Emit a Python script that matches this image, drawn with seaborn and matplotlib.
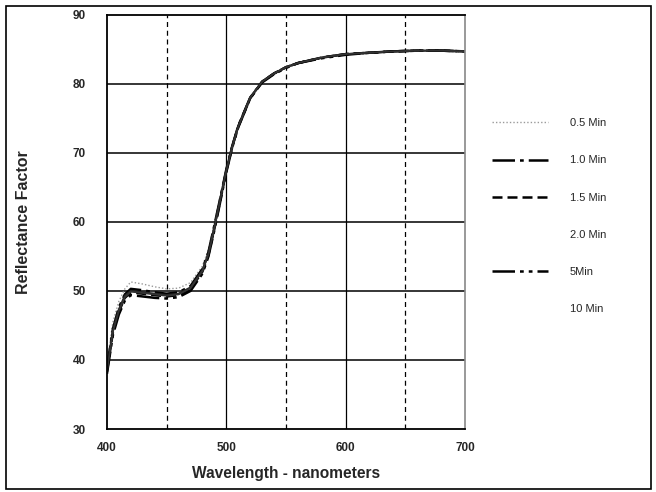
"""
Reflectance factor vs. wavelength for several exposure times.
Recreated as a seaborn line chart with a scanned-report look.
"""

import pandas as pd
import matplotlib.pyplot as plt
import matplotlib.patches as mpatches
from matplotlib.lines import Line2D
import seaborn as sns

# wavelength grid (nm)
wavelength = [400, 405, 410, 415, 420, 430, 440, 450, 460, 470, 480, 485, 490,
              495, 500, 505, 510, 520, 530, 540, 550, 560, 580, 600, 620, 640,
              660, 680, 700]

# reflectance factor, one list per exposure time
r_05 = [39.5, 45.5, 48.5, 50.3, 51.3, 51.0, 50.6, 50.3, 50.4, 51.2, 53.6, 56.0,
        59.8, 63.8, 67.8, 71.2, 74.0, 78.1, 80.4, 81.6, 82.5, 83.1, 83.8, 84.3,
        84.5, 84.7, 84.8, 84.8, 84.7]
r_10 = [38.8, 44.5, 47.6, 49.5, 50.3, 50.1, 49.8, 49.6, 49.8, 50.7, 53.2, 55.6,
        59.5, 63.5, 67.6, 71.0, 73.9, 78.0, 80.3, 81.5, 82.4, 83.0, 83.8, 84.3,
        84.5, 84.7, 84.8, 84.8, 84.7]
r_15 = [38.3, 44.0, 47.0, 49.0, 49.8, 49.6, 49.4, 49.2, 49.4, 50.3, 52.8, 55.2,
        59.0, 63.2, 67.4, 70.9, 73.8, 77.9, 80.3, 81.5, 82.4, 83.0, 83.8, 84.3,
        84.5, 84.7, 84.8, 84.8, 84.7]
r_20 = [38.6, 44.3, 47.3, 49.3, 50.0, 49.8, 49.6, 49.4, 49.6, 50.5, 53.0, 55.4,
        59.3, 63.4, 67.5, 71.0, 73.9, 78.0, 80.3, 81.5, 82.4, 83.0, 83.8, 84.3,
        84.5, 84.7, 84.8, 84.8, 84.7]
r_5 = [38.0, 43.6, 46.6, 48.6, 49.4, 49.2, 49.0, 48.9, 49.1, 50.0, 52.5, 55.0,
       58.8, 63.0, 67.2, 70.8, 73.7, 77.9, 80.2, 81.4, 82.3, 83.0, 83.7, 84.2,
       84.5, 84.7, 84.8, 84.8, 84.7]
r_10min = [38.4, 44.1, 47.1, 49.1, 49.9, 49.7, 49.5, 49.3, 49.5, 50.4, 52.9, 55.3,
           59.1, 63.3, 67.4, 70.9, 73.8, 78.0, 80.3, 81.5, 82.4, 83.0, 83.8, 84.3,
           84.5, 84.7, 84.8, 84.8, 84.7]

labels = ["0.5 Min", "1.0 Min", "1.5 Min", "2.0 Min", "5Min", "10 Min"]
series = [r_05, r_10, r_15, r_20, r_5, r_10min]

x_ticks = [400, 500, 600, 700]
y_ticks = [30, 40, 50, 60, 70, 80, 90]

sns.set_theme(style="white")
plt.rcParams["font.family"] = ["Liberation Sans", "DejaVu Sans"]

fig = plt.figure(figsize=(6.56, 4.92), dpi=100)
ax = fig.add_axes([0.163, 0.128, 0.546, 0.842])

# style per series: (color, linestyle, linewidth, show line in legend)
styles = [
    ("#9a9a9a", (0, (1, 1.5)), 1.0, True),
    ("black", (0, (9, 2, 1.5, 2)), 1.8, True),
    ("black", (0, (4, 2)), 1.8, True),
    ("#222222", "-", 1.5, False),
    ("black", (0, (9, 2, 1.5, 2, 1.5, 2)), 1.8, True),
    ("#333333", "-", 1.3, False),
]

handles = []
for vals, lab, (col, ls, lw, show) in zip(series, labels, styles):
    df = pd.DataFrame({"wavelength": wavelength, "reflectance": vals})
    sns.lineplot(data=df, x="wavelength", y="reflectance", ax=ax, color=col,
                 linestyle=ls, linewidth=lw)
    handles.append(Line2D([], [], color=col, linestyle=ls if show else "None",
                          linewidth=lw, label=lab))

# grid: solid at every 100 nm / 10 units, dashed at the 50 nm marks
for yv in y_ticks[1:-1]:
    ax.axhline(yv, color="black", linewidth=1.1, zorder=0)
for xv in [500, 600]:
    ax.axvline(xv, color="black", linewidth=0.9, zorder=0)
for xv in [450, 550, 650]:
    ax.axvline(xv, color="black", linewidth=0.9, linestyle=(0, (4, 3)), zorder=0)

ax.set_xlim(400, 700)
ax.set_ylim(30, 90)
ax.set_xticks(x_ticks)
ax.set_yticks(y_ticks)
ax.tick_params(axis="both", length=0, labelsize=8.5)
ax.tick_params(axis="y", pad=15)
ax.tick_params(axis="x", pad=9)
for t in ax.get_xticklabels() + ax.get_yticklabels():
    t.set_fontweight("bold")

for side in ["left", "bottom", "top"]:
    ax.spines[side].set_color("black")
    ax.spines[side].set_linewidth(1.3)
ax.spines["right"].set_color("#888888")
ax.spines["right"].set_linewidth(1.2)

ax.set_xlabel("Wavelength - nanometers", fontsize=11.2, fontweight="bold", labelpad=9)
ax.set_ylabel("Reflectance Factor", fontsize=11.5, fontweight="bold", labelpad=30)

leg = ax.legend(handles=handles, loc="upper left", bbox_to_anchor=(0.735, 0.78),
                bbox_transform=fig.transFigure, frameon=False, fontsize=8,
                handlelength=5.0, handletextpad=2.0, labelspacing=2.45)

# border round the whole figure
fig.patches.append(mpatches.Rectangle((0.009, 0.006), 0.983, 0.981,
                                      transform=fig.transFigure, fill=False,
                                      edgecolor="black", linewidth=1.2))

fig.savefig("out.png", dpi=100)
plt.close(fig)
